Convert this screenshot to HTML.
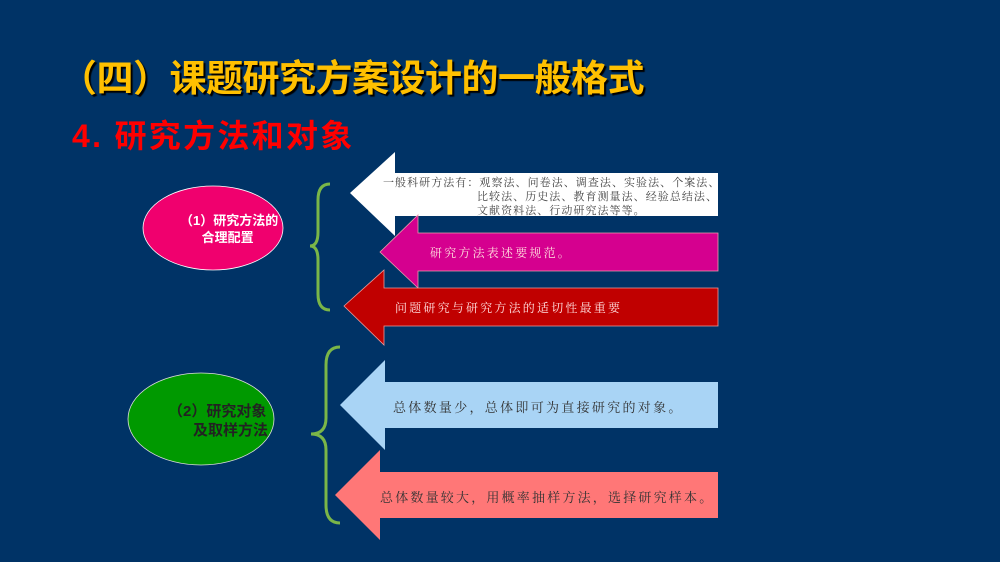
<!DOCTYPE html>
<html><head><meta charset="utf-8"><style>
body{margin:0;width:1000px;height:562px;background:#003366;overflow:hidden;position:relative;font-family:"Liberation Sans","Noto Sans CJK SC",sans-serif}
.t{position:absolute;white-space:nowrap;font-weight:bold}
svg{position:absolute;left:0;top:0}
.s{font-family:"Noto Serif CJK SC","Liberation Serif",serif}
</style></head><body>
<svg width="1000" height="562">
<polygon points="350,193 395,152 395,173 718,173 718,216 395,216 395,236" fill="#fff"/>
<polygon points="380,252 418,215 418,233 718,233 718,271 418,271 418,288" fill="#d5008f" stroke="#e9a" stroke-width="0.8"/>
<polygon points="344,306 384,270 384,288 718,288 718,326 384,326 384,345" fill="#c00000" stroke="#e99" stroke-width="0.8"/>
<polygon points="340,405 385,360 385,382 718,382 718,428 385,428 385,450" fill="#a9d4f5"/>
<polygon points="335,495 380,450 380,472 718,472 718,518 380,518 380,540" fill="#ff7777"/>
<ellipse cx="213" cy="228" rx="70" ry="42" fill="#f0006e" stroke="#fff" stroke-width="0.8"/>
<ellipse cx="201" cy="419" rx="73" ry="46" fill="#009900" stroke="#ddd" stroke-width="0.8"/>
<path d="M330,184 Q318,184 318,200 L318,232 Q318,246 310,246 Q318,246 318,260 L318,294 Q318,310 330,310" fill="none" stroke="#7ab648" stroke-width="3"/>
<path d="M340,347 Q326,347 326,365 L326,418 Q326,434 311,434 Q326,434 326,450 L326,505 Q326,523 340,523" fill="none" stroke="#7ab648" stroke-width="3"/>
</svg>
<div class="t" style="left:60px;top:48px;font-size:37px;color:#ffc000;text-shadow:2px 2px 1px #000;letter-spacing:-0.5px">（四）课题研究方案设计的一般格式</div>
<div class="t" style="left:72px;top:111px;font-size:32px;color:#ff0000;letter-spacing:2.3px">4. 研究方法和对象</div>
<div class="t" style="left:180px;top:212px;font-size:13px;color:#fff;line-height:17px">（1）研究方法的<br>&nbsp;&nbsp;&nbsp;&nbsp;&nbsp;&nbsp;合理配置</div>
<div class="t" style="left:168px;top:402px;font-size:15px;color:#222;line-height:19px">（2）研究对象<br>&nbsp;&nbsp;&nbsp;&nbsp;&nbsp;&nbsp;及取样方法</div>
<div class="t s" style="left:383px;top:175px;font-size:11px;color:#444;font-weight:normal;line-height:14px;letter-spacing:1.05px">一般科研方法有：观察法、问卷法、调查法、实验法、个案法、<br><span style="padding-left:94px">比较法、历史法、教育测量法、经验总结法、</span><br><span style="padding-left:94px">文献资料法、行动研究法等等。</span></div>
<div class="t s" style="left:430px;top:244px;font-size:12px;color:#fdd;font-weight:normal;letter-spacing:2.2px">研究方法表述要规范。</div>
<div class="t s" style="left:395px;top:299px;font-size:12px;color:#fdd;font-weight:normal;letter-spacing:2.2px">问题研究与研究方法的适切性最重要</div>
<div class="t s" style="left:393px;top:397px;font-size:13px;color:#333;font-weight:normal;letter-spacing:2.3px">总体数量少，总体即可为直接研究的对象。</div>
<div class="t s" style="left:380px;top:487px;font-size:13px;color:#333;font-weight:normal;letter-spacing:2.2px">总体数量较大，用概率抽样方法，选择研究样本。</div>
</body></html>
